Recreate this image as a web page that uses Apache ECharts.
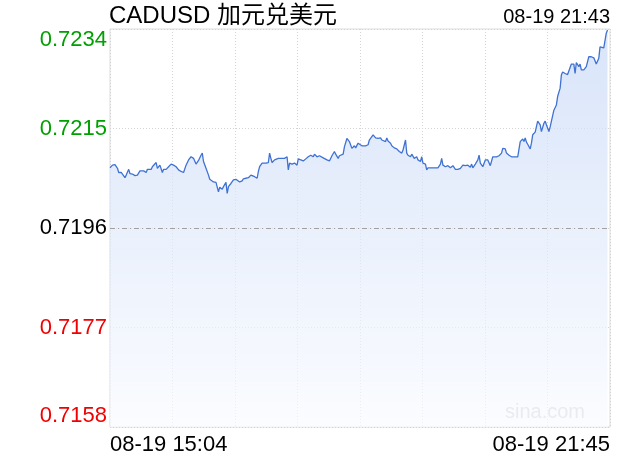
<!DOCTYPE html>
<html><head><meta charset="utf-8">
<script src="https://cdn.jsdelivr.net/npm/echarts@6/dist/echarts.min.js"></script>
<style>html,body{margin:0;padding:0;background:#fff}#c{width:620px;height:460px}</style>
</head><body><div id="c"></div>
<script>
const titleText = 'CADUSD 加元兑美元';
const dateLabel = '08-19';
const startTime = '15:04';
const endTime = '21:45';
const tickLabels = ['0.7158', '0.7177', '0.7196', '0.7215', '0.7234'];
const prevClose = 0.7196;
const watermark = 'sina.com';

const times = [
'15:04','15:06','15:08','15:10','15:11','15:13','15:14','15:16','15:17','15:19',
'15:20','15:22','15:24','15:26','15:28','15:29','15:31','15:33','15:34','15:37',
'15:38','15:41','15:42','15:44','15:46','15:47','15:49','15:51','15:53','15:55',
'15:57','15:59','16:01','16:03','16:05','16:07','16:09','16:11','16:13','16:15',
'16:17','16:18','16:19','16:21','16:23','16:24','16:25','16:27','16:29','16:31',
'16:32','16:34','16:35','16:37','16:38','16:39','16:41','16:43','16:45',
'16:48','16:50','16:51','16:53','16:55','16:57','16:58','17:00','17:02','17:03',
'17:04','17:06','17:07','17:09','17:11','17:12','17:13','17:14','17:16','17:19',
'17:22','17:24','17:26','17:27','17:28','17:30','17:32','17:34','17:35','17:37',
'17:39','17:41','17:43','17:45','17:47','17:48','17:50','17:52','17:55','17:56',
'17:58','18:00','18:02','18:04','18:05','18:07','18:08','18:11','18:12','18:14',
'18:16','18:18','18:20','18:21','18:23',
'18:24','18:26','18:29','18:31','18:32','18:33','18:35','18:37','18:39','18:41',
'18:42','18:43','18:45','18:46','18:47','18:49','18:50','18:52','18:54','18:56',
'18:58','18:59','19:01','19:02','19:03','19:05','19:06','19:08','19:10','19:11',
'19:13','19:14','19:15','19:17','19:18','19:19','19:22','19:25','19:27','19:29',
'19:30','19:31','19:33','19:35','19:37','19:39','19:41','19:43','19:45','19:47',
'19:49','19:51','19:53','19:54','19:55','19:57','19:59','20:00','20:01','20:03',
'20:05','20:07','20:08','20:09','20:11','20:14','20:16','20:18','20:19','20:21',
'20:22','20:24','20:26','20:29','20:30','20:31','20:33','20:35','20:36','20:37',
'20:38','20:39','20:41','20:42','20:43','20:45','20:46','20:47','20:49','20:50',
'20:52','20:53','20:54','20:56','20:57','20:58','21:00','21:02','21:03','21:04',
'21:05','21:06','21:07','21:09','21:11','21:12','21:14','21:16','21:17','21:18',
'21:20','21:21','21:22','21:24','21:26','21:28','21:29','21:30','21:32','21:34',
'21:36','21:37','21:38','21:40','21:42','21:43'
];

const values = [
0.72075,0.72080,0.72081,0.72074,0.72066,0.72066,0.72064,0.72056,0.72061,0.72072,
0.72064,0.72063,0.72060,0.72061,0.72069,0.72066,0.72069,0.72066,0.72072,0.72072,
0.72077,0.72085,0.72074,0.72080,0.72066,0.72072,0.72072,0.72077,0.72082,0.72080,
0.72077,0.72071,0.72068,0.72066,0.72080,0.72090,0.72096,0.72093,0.72082,0.72089,
0.72099,0.72103,0.72087,0.72074,0.72061,0.72053,0.72052,0.72048,0.72047,0.72029,
0.72038,0.72034,0.72039,0.72047,0.72026,0.72039,0.72045,0.72052,0.72053,
0.72048,0.72050,0.72054,0.72055,0.72056,0.72061,0.72063,0.72058,0.72055,0.72068,
0.72077,0.72084,0.72082,0.72084,0.72085,0.72103,0.72093,0.72085,0.72090,0.72093,
0.72093,0.72093,0.72096,0.72071,0.72084,0.72082,0.72084,0.72080,0.72092,0.72090,
0.72088,0.72092,0.72096,0.72099,0.72096,0.72101,0.72096,0.72098,0.72094,0.72093,
0.72090,0.72088,0.72098,0.72106,0.72101,0.72093,0.72098,0.72101,0.72115,0.72131,
0.72125,0.72112,0.72117,0.72113,0.72122,
0.72120,0.72117,0.72117,0.72119,0.72128,0.72125,0.72138,0.72132,0.72131,0.72132,
0.72128,0.72131,0.72125,0.72132,0.72126,0.72122,0.72117,0.72113,0.72111,0.72106,
0.72103,0.72109,0.72128,0.72103,0.72099,0.72096,0.72101,0.72093,0.72096,0.72090,
0.72087,0.72096,0.72084,0.72082,0.72071,0.72075,0.72075,0.72075,0.72075,0.72082,
0.72093,0.72080,0.72077,0.72079,0.72075,0.72079,0.72072,0.72072,0.72074,0.72080,
0.72079,0.72080,0.72076,0.72082,0.72075,0.72082,0.72090,0.72099,0.72084,0.72077,
0.72090,0.72090,0.72087,0.72079,0.72096,0.72096,0.72098,0.72103,0.72112,0.72111,
0.72103,0.72099,0.72096,0.72096,0.72099,0.72096,0.72125,0.72130,0.72125,0.72132,
0.72124,0.72120,0.72111,0.72122,0.72138,0.72143,0.72145,0.72164,0.72157,0.72144,
0.72160,0.72164,0.72157,0.72144,0.72153,0.72155,0.72185,0.72195,0.72211,0.72214,
0.72227,0.72252,0.72258,0.72255,0.72253,0.72255,0.72273,0.72273,0.72255,0.72276,
0.72268,0.72273,0.72262,0.72262,0.72268,0.72287,0.72284,0.72287,0.72285,0.72273,
0.72284,0.72306,0.72303,0.72304,0.72332,0.72338
];

const toMin = s => { const p = s.split(':'); return (+p[0]) * 60 + (+p[1]); };
const pad = n => (n < 10 ? '0' : '') + n;
const fmtMin = m => { const t = Math.round(m); return pad(Math.floor(t / 60)) + ':' + pad(t % 60); };
const t0 = toMin(startTime);
const span = toMin(endTime) - t0;
const n = Math.min(times.length, values.length);
const seriesData = [];
for (let i = 0; i < n; i++) seriesData.push([toMin(times[i]) - t0, values[i]]);
const tickValues = tickLabels.map(Number);

const FONT = '"Liberation Sans", Arial, "Noto Sans CJK SC", sans-serif';
const chart = echarts.init(document.getElementById('c'), null, { renderer: 'canvas' });
chart.setOption({
  animation: false,
  backgroundColor: '#fff',
  textStyle: { fontFamily: FONT },
  title: [
    { text: titleText, left: 109, top: 4, padding: 0,
      textStyle: { fontFamily: FONT, fontSize: 24, fontWeight: 'normal', color: '#000' } },
    { text: dateLabel + ' ' + times[n - 1], right: 10, top: 7, padding: 0,
      textStyle: { fontFamily: FONT, fontSize: 20, fontWeight: 'normal', color: '#000' } }
  ],
  graphic: [
    { type: 'text', right: 35, top: 402, silent: true,
      style: { text: watermark, fontFamily: FONT, fontSize: 20, fill: '#c8c8c8' } }
  ],
  grid: { left: 110, right: 10, top: 29, bottom: 33, show: true, borderColor: '#dcdcdc', borderWidth: 1, backgroundColor: 'transparent' },
  xAxis: {
    type: 'value', min: 0, max: span, interval: span / 8,
    axisLine: { show: false }, axisTick: { show: false },
    splitLine: { show: true, lineStyle: { color: '#d4d4d4', type: [1, 2], width: 1 } },
    axisLabel: {
      customValues: [0, span], margin: 7, fontSize: 22, color: '#000', fontFamily: FONT,
      alignMinLabel: 'left', alignMaxLabel: 'right',
      formatter: v => dateLabel + ' ' + fmtMin(t0 + v)
    }
  },
  yAxis: {
    type: 'value', min: tickValues[0], max: tickValues[tickValues.length - 1], scale: true,
    axisLine: { show: false },
    axisTick: { show: false, customValues: tickValues },
    splitLine: { show: true, lineStyle: { color: '#d4d4d4', type: [1, 2], width: 1 } },
    axisLabel: {
      customValues: tickValues, margin: 3, fontSize: 22, fontFamily: FONT,
      verticalAlignMinLabel: 'bottom', verticalAlignMaxLabel: 'top',
      formatter: v => v.toFixed(4),
      color: v => (Math.abs(v - prevClose) < 1e-7 ? '#000' : (v > prevClose ? '#00a000' : '#f00000'))
    }
  },
  series: [{
    type: 'line', data: seriesData, showSymbol: false, symbol: 'none',
    lineStyle: { color: '#3f72d3', width: 1.3 },
    areaStyle: {
      origin: 'start',
      color: new echarts.graphic.LinearGradient(0, 0, 0, 1, [
        { offset: 0, color: '#c8d9f7' }, { offset: 1, color: '#f9fbff' }
      ])
    },
    markLine: {
      silent: true, symbol: 'none', label: { show: false }, precision: 5,
      lineStyle: { color: '#a0a0a0', type: [5, 3, 1, 3], width: 1 },
      data: [{ yAxis: prevClose }]
    }
  }]
});
</script></body></html>
